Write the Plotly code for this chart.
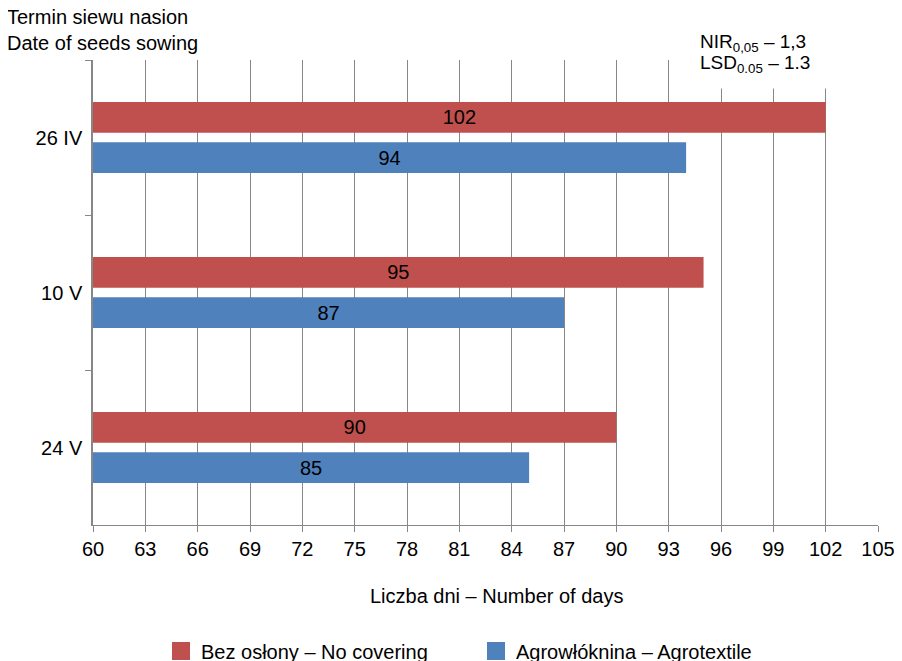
import plotly.graph_objects as go

categories = ["26 IV", "10 V", "24 V"]
no_covering = [102, 95, 90]
agrotextile = [94, 87, 85]
series_names = ["Bez osłony – No covering", "Agrowłóknina – Agrotextile"]
series_colors = ["#C0504D", "#4F81BD"]
x_ticks = list(range(60, 106, 3))
axis_start = 60

FONT = "Liberation Sans, Arial, sans-serif"
GRID = "#878787"

# page is drawn with the browser's default 8px body margin
OFF = 8
PL, PR, PT, PB = 93, 878, 60, 525  # plot area in page pixels


def px(x):
    return (x - PL) / (PR - PL)


def py(y):
    return (PB - y) / (PB - PT)


fig = go.Figure()
for name, vals, col in zip(series_names, [no_covering, agrotextile], series_colors):
    fig.add_trace(go.Bar(
        y=categories, x=[v - axis_start for v in vals], base=axis_start,
        orientation="h", name=name,
        marker=dict(color=col, line=dict(width=0)),
        text=vals, textposition="inside", insidetextanchor="middle",
        textfont=dict(color="black", size=20, family=FONT),
        showlegend=False, hovertemplate="%{y}: %{text}<extra>" + name + "</extra>",
    ))
    fig.add_trace(go.Scatter(
        x=[None], y=[None], mode="markers", name=name,
        marker=dict(symbol="square", size=16, color=col, line=dict(color=col, width=2)),
    ))

fig.update_layout(
    width=902, height=661,
    margin=dict(l=PL - OFF, r=902 - PR + OFF, t=PT - OFF, b=661 - PB + OFF, autoexpand=False),
    paper_bgcolor="white", plot_bgcolor="white",
    font=dict(family=FONT, size=20, color="black"),
    barmode="group", bargap=0.48, bargroupgap=0.24,
    legend=dict(orientation="h", x=px(161), xanchor="left", y=py(651),
                yanchor="middle", font=dict(size=20), itemsizing="trace",
                entrywidth=270, entrywidthmode="pixels", bgcolor="rgba(0,0,0,0)"),
    xaxis=dict(range=[60, 105], tickvals=x_ticks, showgrid=True, gridcolor=GRID, gridwidth=1.3,
               showline=True, linecolor=GRID, linewidth=1.3, ticks="outside", ticklen=6,
               tickcolor=GRID, tickfont=dict(size=20), zeroline=False),
    yaxis=dict(type="category", categoryorder="array", categoryarray=categories,
               autorange="reversed", showgrid=False, showline=True, linecolor=GRID, linewidth=1.5,
               ticks="outside", ticklen=6, tickcolor=GRID, tickson="boundaries",
               ticklabelstandoff=5, tickfont=dict(size=20)),
)

fig.add_annotation(xref="paper", yref="paper", x=px(496), y=py(596),
                   text="Liczba dni – Number of days", showarrow=False,
                   xanchor="center", yanchor="middle", font=dict(size=20))
fig.add_annotation(xref="paper", yref="paper", x=px(5), y=py(4),
                   text="Termin siewu nasion<br>Date of seeds sowing", showarrow=False,
                   xanchor="left", yanchor="top", align="left", font=dict(size=20))
fig.add_annotation(xref="paper", yref="paper", x=px(697), y=py(28),
                   text="NIR<sub>0,05</sub> – 1,3", showarrow=False,
                   xanchor="left", yanchor="top", align="left", valign="top",
                   width=165, height=55, borderpad=2, bgcolor="white",
                   font=dict(size=19))
fig.add_annotation(xref="paper", yref="paper", x=px(697), y=py(64),
                   text="LSD<sub>0.05</sub> – 1.3", showarrow=False,
                   xanchor="left", yanchor="middle", align="left",
                   width=165, borderpad=2, font=dict(size=19))

fig.write_html("out.html")
